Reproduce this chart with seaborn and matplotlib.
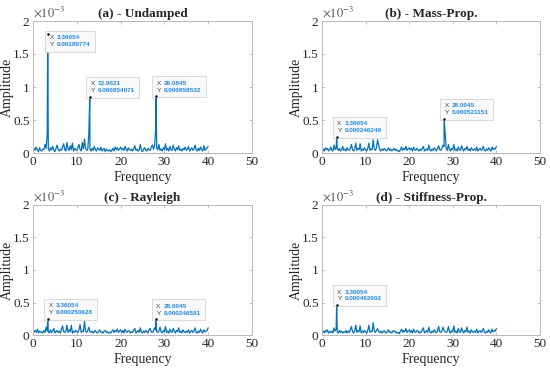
import numpy as np
import pandas as pd
import matplotlib
matplotlib.use("Agg")
import matplotlib.pyplot as plt
import seaborn as sns
from matplotlib.offsetbox import TextArea, HPacker, AnnotationBbox

# ---------------- data (amplitudes in units of 1e-3) ----------------
freq_step = 0.25
n_pts = 161  # 0 .. 40 Hz

noise_a = [0.03, 0.07, 0.04, 0.09, 0.05, 0.02, 0.08, 0.04, 0.03, 0.06,
           0.05, 0.13, 0.07, 0.30, 0.06, 0.03, 0.08, 0.05, 0.10, 0.04,
           0.02, 0.07, 0.12, 0.05, 0.03, 0.06, 0.04, 0.09, 0.14, 0.05,
           0.03, 0.16, 0.06, 0.04, 0.11, 0.05, 0.15, 0.03, 0.07, 0.05,
           0.04, 0.08, 0.13, 0.05, 0.03, 0.16, 0.06, 0.21, 0.07, 0.04,
           0.05, 0.30, 0.06, 0.03, 0.07, 0.04, 0.10, 0.05, 0.03, 0.08,
           0.06, 0.04, 0.09, 0.03, 0.05, 0.07, 0.02, 0.06, 0.04, 0.03,
           0.05, 0.02, 0.04, 0.07, 0.03, 0.09, 0.05, 0.08, 0.04, 0.06,
           0.09, 0.05, 0.07, 0.04, 0.10, 0.06, 0.03, 0.08, 0.05, 0.04,
           0.06, 0.03, 0.07, 0.11, 0.04, 0.06, 0.03, 0.05, 0.13, 0.04,
           0.02, 0.06, 0.08, 0.04, 0.03, 0.07, 0.05, 0.04, 0.09, 0.12,
           0.06, 0.10, 0.35, 0.07, 0.05, 0.13, 0.04, 0.06, 0.03, 0.08,
           0.05, 0.14, 0.04, 0.07, 0.03, 0.10, 0.05, 0.04, 0.12, 0.06,
           0.03, 0.08, 0.05, 0.11, 0.04, 0.06, 0.03, 0.07, 0.05, 0.09,
           0.04, 0.06, 0.10, 0.03, 0.05, 0.08, 0.04, 0.06, 0.12, 0.05,
           0.03, 0.07, 0.04, 0.09, 0.05, 0.03, 0.11, 0.04, 0.06, 0.08,
           0.10]
noise_b = [0.04, 0.06, 0.03, 0.08, 0.05, 0.07, 0.03, 0.05, 0.09, 0.04,
           0.03, 0.12, 0.05, 0.08, 0.06, 0.04, 0.07, 0.03, 0.05, 0.10,
           0.04, 0.06, 0.03, 0.08, 0.05, 0.04, 0.07, 0.13, 0.05, 0.03,
           0.06, 0.15, 0.04, 0.07, 0.05, 0.14, 0.03, 0.06, 0.04, 0.08,
           0.05, 0.03, 0.07, 0.15, 0.04, 0.06, 0.05, 0.20, 0.06, 0.04,
           0.08, 0.20, 0.12, 0.05, 0.03, 0.06, 0.04, 0.07, 0.05, 0.03,
           0.05, 0.08, 0.04, 0.06, 0.03, 0.05, 0.07, 0.04, 0.06, 0.03,
           0.04, 0.02, 0.05, 0.09, 0.04, 0.07, 0.05, 0.10, 0.04, 0.06,
           0.08, 0.05, 0.07, 0.03, 0.09, 0.05, 0.04, 0.07, 0.05, 0.03,
           0.06, 0.04, 0.07, 0.10, 0.03, 0.05, 0.06, 0.04, 0.12, 0.05,
           0.03, 0.06, 0.04, 0.08, 0.05, 0.03, 0.07, 0.11, 0.05, 0.04,
           0.07, 0.12, 0.10, 0.30, 0.06, 0.04, 0.13, 0.05, 0.03, 0.07,
           0.05, 0.13, 0.04, 0.06, 0.03, 0.09, 0.05, 0.04, 0.11, 0.06,
           0.03, 0.07, 0.05, 0.10, 0.04, 0.06, 0.03, 0.08, 0.05, 0.04,
           0.06, 0.04, 0.09, 0.03, 0.05, 0.07, 0.04, 0.06, 0.10, 0.04,
           0.03, 0.06, 0.04, 0.08, 0.05, 0.03, 0.09, 0.05, 0.07, 0.06,
           0.10]
noise_c = [0.03, 0.05, 0.07, 0.04, 0.09, 0.03, 0.06, 0.04, 0.05, 0.03,
           0.07, 0.04, 0.12, 0.06, 0.05, 0.03, 0.08, 0.04, 0.06, 0.10,
           0.03, 0.05, 0.07, 0.04, 0.06, 0.03, 0.09, 0.14, 0.05, 0.04,
           0.06, 0.15, 0.04, 0.08, 0.05, 0.15, 0.03, 0.06, 0.04, 0.07,
           0.05, 0.04, 0.08, 0.16, 0.04, 0.06, 0.05, 0.21, 0.06, 0.04,
           0.07, 0.12, 0.05, 0.04, 0.06, 0.03, 0.05, 0.07, 0.04, 0.03,
           0.06, 0.08, 0.04, 0.05, 0.03, 0.06, 0.07, 0.04, 0.05, 0.03,
           0.04, 0.03, 0.06, 0.08, 0.04, 0.07, 0.05, 0.09, 0.04, 0.06,
           0.08, 0.04, 0.07, 0.03, 0.09, 0.05, 0.04, 0.07, 0.06, 0.03,
           0.05, 0.04, 0.08, 0.10, 0.03, 0.05, 0.07, 0.04, 0.11, 0.05,
           0.03, 0.06, 0.04, 0.07, 0.05, 0.03, 0.08, 0.10, 0.05, 0.04,
           0.06, 0.11, 0.08, 0.05, 0.04, 0.06, 0.12, 0.05, 0.03, 0.07,
           0.05, 0.13, 0.04, 0.06, 0.03, 0.09, 0.05, 0.04, 0.10, 0.06,
           0.03, 0.07, 0.05, 0.11, 0.04, 0.06, 0.03, 0.08, 0.05, 0.04,
           0.06, 0.04, 0.08, 0.03, 0.05, 0.07, 0.04, 0.06, 0.11, 0.04,
           0.03, 0.06, 0.04, 0.09, 0.05, 0.03, 0.08, 0.05, 0.06, 0.07,
           0.11]
noise_d = [0.04, 0.06, 0.03, 0.07, 0.05, 0.08, 0.03, 0.05, 0.04, 0.06,
           0.03, 0.11, 0.06, 0.09, 0.05, 0.03, 0.07, 0.04, 0.06, 0.03,
           0.05, 0.04, 0.07, 0.03, 0.06, 0.04, 0.08, 0.13, 0.05, 0.03,
           0.06, 0.15, 0.04, 0.07, 0.05, 0.14, 0.03, 0.06, 0.04, 0.07,
           0.05, 0.03, 0.07, 0.15, 0.04, 0.06, 0.05, 0.19, 0.06, 0.04,
           0.07, 0.10, 0.05, 0.04, 0.06, 0.03, 0.05, 0.07, 0.04, 0.03,
           0.06, 0.08, 0.04, 0.05, 0.03, 0.06, 0.07, 0.04, 0.05, 0.03,
           0.04, 0.02, 0.06, 0.09, 0.04, 0.07, 0.05, 0.10, 0.04, 0.06,
           0.08, 0.04, 0.07, 0.03, 0.09, 0.05, 0.04, 0.07, 0.06, 0.03,
           0.05, 0.04, 0.08, 0.11, 0.03, 0.05, 0.07, 0.04, 0.12, 0.05,
           0.03, 0.06, 0.04, 0.08, 0.05, 0.03, 0.07, 0.13, 0.05, 0.04,
           0.06, 0.12, 0.07, 0.05, 0.04, 0.06, 0.13, 0.05, 0.03, 0.07,
           0.05, 0.14, 0.04, 0.06, 0.03, 0.10, 0.05, 0.04, 0.11, 0.06,
           0.03, 0.07, 0.05, 0.12, 0.04, 0.06, 0.03, 0.08, 0.05, 0.04,
           0.06, 0.04, 0.09, 0.03, 0.05, 0.07, 0.04, 0.06, 0.10, 0.04,
           0.03, 0.06, 0.04, 0.08, 0.05, 0.03, 0.09, 0.05, 0.07, 0.06,
           0.10]

# peaks (frequency, amplitude in 1e-3, datatip text)
peak_f_a = [3.36054, 12.9621, 28.0845]
peak_y_a = [1.80774, 0.854071, 0.858532]
peak_lbl_a = [("3.36054", "0.00180774"), ("12.9621", "0.000854071"), ("28.0845", "0.000858532")]

peak_f_b = [3.36054, 28.0045]
peak_y_b = [0.246249, 0.521151]
peak_lbl_b = [("3.36054", "0.000246249"), ("28.0045", "0.000521151")]

peak_f_c = [3.36054, 28.0045]
peak_y_c = [0.250628, 0.246581]
peak_lbl_c = [("3.36054", "0.000250628"), ("28.0045", "0.000246581")]

peak_f_d = [3.36054]
peak_y_d = [0.462602]
peak_lbl_d = [("3.36054", "0.000462602")]

titles = ["(a) - Undamped", "(b) - Mass-Prop.", "(c) - Rayleigh", "(d) - Stiffness-Prop."]
x_ticks = [0, 10, 20, 30, 40, 50]
y_ticks = [0, 0.5, 1, 1.5, 2]

# ---------------- style ----------------
sns.set_theme(style="ticks")
plt.rcParams["font.family"] = ["Liberation Serif", "DejaVu Serif"]
plt.rcParams["mathtext.fontset"] = "stix"

LINE = "#0072BD"
VAL = "#1a8cf0"
SPINE = "#b8b8b8"

fig = plt.figure(figsize=(5.5, 3.72), dpi=100)
W, H = 550, 372
boxes = [(33, 21, 252, 153), (322, 21, 540, 153), (33, 205, 252, 335), (322, 205, 540, 335)]

series = [
    (noise_a, peak_f_a, peak_y_a, peak_lbl_a, ["below", "above", "above"]),
    (noise_b, peak_f_b, peak_y_b, peak_lbl_b, ["above", "above"]),
    (noise_c, peak_f_c, peak_y_c, peak_lbl_c, ["above", "above"]),
    (noise_d, peak_f_d, peak_y_d, peak_lbl_d, ["above"]),
]

grid_f = np.arange(n_pts) * freq_step

for (l, t, r, b), (noise, pf, py, plbl, orient), title in zip(boxes, series, titles):
    ax = fig.add_axes([l / W, 1 - b / H, (r - l) / W, (b - t) / H])
    df = pd.DataFrame({"f": np.concatenate([grid_f, pf]),
                       "amp": np.concatenate([noise, py])}).sort_values("f")
    sns.lineplot(data=df, x="f", y="amp", ax=ax, color=LINE, lw=0.9,
                 estimator=None, sort=True)
    ax.set_xlim(0, 50)
    ax.set_ylim(0, 2)
    ax.set_xticks(x_ticks)
    ax.set_yticks(y_ticks)
    ax.set_xticklabels([str(v) for v in x_ticks])
    ax.set_yticklabels(["%g" % v for v in y_ticks])
    ax.tick_params(direction="in", length=2.5, width=0.6, color=SPINE,
                   labelsize=9.5, pad=2.5, top=True, right=True)
    for s in ax.spines.values():
        s.set_color(SPINE)
        s.set_linewidth(0.7)
    ax.set_xlabel("Frequency", fontsize=10)
    ax.set_ylabel("Amplitude", fontsize=10)
    ax.xaxis.set_label_coords(0.5, -17.5 / (b - t))
    ax.yaxis.set_label_coords(-0.087, 0.5)
    ax.set_title(title, fontsize=9.5, fontweight="bold", pad=3)
    ax.text(0.0, 1.01, r"$\times10^{-3}$", transform=ax.transAxes,
            ha="left", va="bottom", fontsize=9, color="#555555")

    for fx, fy, (sx, sy), o in zip(pf, py, plbl, orient):
        ax.plot([fx], [fy], "o", color="black", ms=1.8, mew=0, zorder=5)
        lab = TextArea("X\nY", textprops=dict(color="#404040", fontsize=4.6,
                                               family="Liberation Sans", linespacing=1.45))
        val = TextArea(sx + "\n" + sy, textprops=dict(color=VAL, fontsize=4.6,
                                                       fontweight="bold",
                                                       family="Liberation Sans", linespacing=1.45))
        pack = HPacker(children=[lab, val], align="top", pad=0, sep=2)
        if o == "above":
            xybox, align = (0.5, 2.5), (0, 0)
        else:
            xybox, align = (1.2, -1.2), (0, 1)
        ab = AnnotationBbox(pack, (fx, fy), xybox=xybox, xycoords="data",
                            boxcoords="offset points", box_alignment=align,
                            frameon=True, pad=0.22,
                            bboxprops=dict(facecolor="#f9f9f9", edgecolor="#d4d4d4",
                                           lw=0.6, boxstyle="square"))
        ax.add_artist(ab)

fig.savefig("out.png", dpi=100)
